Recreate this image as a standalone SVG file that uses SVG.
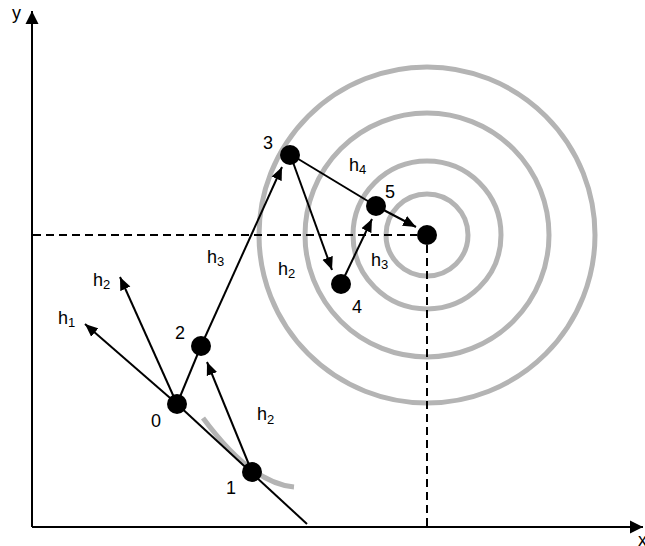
<svg xmlns="http://www.w3.org/2000/svg" width="645" height="546" viewBox="0 0 645 546">
<style>
.ln{stroke:#000;stroke-width:2;fill:none}
.ar{stroke:#000;stroke-width:2;fill:none;marker-end:url(#ah)}
.ds{stroke:#000;stroke-width:2;fill:none;stroke-dasharray:8,5}
.ring{stroke:#b4b4b4;stroke-width:5;fill:none}
.pt{fill:#000}
text{font-family:"Liberation Sans",Arial,sans-serif;font-size:18px;fill:#000}
.sub{font-size:13px}
</style>
<defs>
<marker id="ah" markerUnits="userSpaceOnUse" markerWidth="14" markerHeight="12" refX="13" refY="6" orient="auto">
<path d="M0,0.5 L13,6 L0,11.5 z" fill="#000"/>
</marker>
<marker id="axh" markerUnits="userSpaceOnUse" markerWidth="14" markerHeight="14" refX="13" refY="7" orient="auto">
<path d="M0,0.5 L13,7 L0,13.5 z" fill="#000"/>
</marker>
</defs>
<g id="rings">
<circle class="ring" cx="427" cy="235" r="41"/>
<circle class="ring" cx="427" cy="235" r="74"/>
<circle class="ring" cx="427" cy="235" r="122"/>
<circle class="ring" cx="427" cy="235" r="168"/>
<path class="ring" d="M203,418 Q251.5,483.5 294,487" stroke-width="4"/>
</g>
<g id="axes">
<line class="ln" x1="32" y1="527" x2="32" y2="11" marker-end="url(#axh)"/>
<line class="ln" x1="32" y1="527" x2="643" y2="527" marker-end="url(#axh)"/>
<text x="12" y="19">y</text>
<text x="638" y="546">x</text>
</g>
<g id="connectors">
<line class="ds" x1="33" y1="235" x2="417" y2="235"/>
<line class="ds" x1="427" y1="245" x2="427" y2="527"/>
<line class="ln" x1="177" y1="404" x2="307" y2="524"/>
<line class="ar" x1="177" y1="404" x2="85" y2="324"/>
<line class="ar" x1="177" y1="404" x2="120" y2="277"/>
<line class="ln" x1="177" y1="404" x2="201" y2="346"/>
<line class="ar" x1="201" y1="346" x2="282" y2="167"/>
<line class="ar" x1="252" y1="472" x2="207" y2="362"/>
<line class="ar" x1="290" y1="154" x2="332" y2="270"/>
<line class="ar" x1="341" y1="284" x2="372" y2="219"/>
<line class="ln" x1="290" y1="154" x2="376" y2="206"/>
<line class="ar" x1="376" y1="206" x2="416" y2="227"/>
</g>
<g id="p0"><circle class="pt" cx="177" cy="404" r="10"/><text x="151" y="427">0</text></g>
<g id="p1"><circle class="pt" cx="252" cy="472" r="10"/><text x="226" y="494">1</text></g>
<g id="p2"><circle class="pt" cx="201" cy="346" r="10"/><text x="175" y="339">2</text></g>
<g id="p3"><circle class="pt" cx="290" cy="155" r="10"/><text x="263" y="149">3</text></g>
<g id="p4"><circle class="pt" cx="341" cy="284" r="10"/><text x="352" y="313">4</text></g>
<g id="p5"><circle class="pt" cx="376" cy="206" r="10"/><text x="385" y="198">5</text></g>
<g id="target"><circle class="pt" cx="427" cy="235" r="10"/></g>
<g id="labels">
<text x="58" y="324">h<tspan class="sub" dy="3">1</tspan></text>
<text x="93" y="286">h<tspan class="sub" dy="3">2</tspan></text>
<text x="207" y="263">h<tspan class="sub" dy="3">3</tspan></text>
<text x="257" y="420">h<tspan class="sub" dy="4">2</tspan></text>
<text x="278" y="275">h<tspan class="sub" dy="3">2</tspan></text>
<text x="371" y="266">h<tspan class="sub" dy="3">3</tspan></text>
<text x="349" y="171">h<tspan class="sub" dy="3">4</tspan></text>
</g>
</svg>
